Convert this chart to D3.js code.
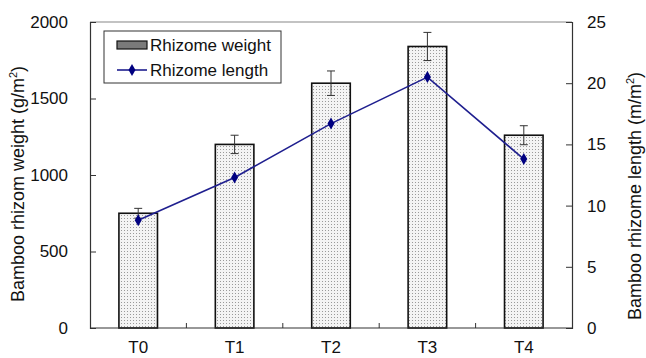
<!DOCTYPE html>
<html>
<head>
<meta charset="utf-8">
<script src="https://cdn.jsdelivr.net/npm/d3@7"></script>
<style>
  body { margin: 0; background: #fff; }
  svg { display: block; font-family: "Liberation Sans", Arial, sans-serif; }
</style>
</head>
<body>
<div id="app"></div>
<script>
// data
const treatments = ['T0', 'T1', 'T2', 'T3', 'T4'];
const rhizomeWeight = [750, 1200, 1600, 1840, 1260];   // g/m2
const weightError = [32, 60, 80, 92, 62];
const rhizomeLength = [8.8, 12.3, 16.7, 20.5, 13.8];   // m/m2
const weightTicks = [0, 500, 1000, 1500, 2000];
const lengthTicks = [0, 5, 10, 15, 20, 25];

const width = 646, height = 358;
const m = { left: 90, right: 74, top: 22, bottom: 30 };
const w = width - m.left - m.right;
const h = height - m.top - m.bottom;

const svg = d3.select('#app').append('svg')
  .attr('width', width)
  .attr('height', height);

// dotted fill for the bars
const defs = svg.append('defs');
const pat = defs.append('pattern')
  .attr('id', 'dots')
  .attr('patternUnits', 'userSpaceOnUse')
  .attr('width', 3).attr('height', 3);
pat.append('rect').attr('width', 3).attr('height', 3).attr('fill', '#f4f4f4');
pat.append('rect').attr('x', 1).attr('y', 1).attr('width', 1).attr('height', 1).attr('fill', '#9a9a9a');

const g = svg.append('g').attr('transform', `translate(${m.left},${m.top})`);

const x = d3.scaleBand()
  .domain(treatments)
  .range([0, w])
  .paddingInner(0.6)
  .paddingOuter(0.3);

const yL = d3.scaleLinear().domain([0, 2000]).range([h, 0]);
const yR = d3.scaleLinear().domain([0, 25]).range([h, 0]);

// frame top line
g.append('line')
  .attr('x1', 0).attr('x2', w).attr('y1', 0).attr('y2', 0)
  .attr('stroke', '#888').attr('stroke-width', 1.2);

// bars
g.selectAll('rect.bar')
  .data(treatments)
  .enter()
  .append('rect')
  .attr('class', 'bar')
  .attr('x', d => x(d))
  .attr('y', (d, i) => yL(rhizomeWeight[i]))
  .attr('width', x.bandwidth())
  .attr('height', (d, i) => h - yL(rhizomeWeight[i]))
  .attr('fill', 'url(#dots)')
  .attr('stroke', '#111')
  .attr('stroke-width', 1.6);

// error bars (upper and lower)
const eb = g.selectAll('g.err')
  .data(treatments)
  .enter()
  .append('g')
  .attr('class', 'err')
  .attr('stroke', '#333')
  .attr('stroke-width', 1);
eb.append('line')
  .attr('x1', d => x(d) + x.bandwidth() / 2)
  .attr('x2', d => x(d) + x.bandwidth() / 2)
  .attr('y1', (d, i) => yL(rhizomeWeight[i] - weightError[i]))
  .attr('y2', (d, i) => yL(rhizomeWeight[i] + weightError[i]));
eb.append('line')
  .attr('x1', d => x(d) + x.bandwidth() / 2 - 4)
  .attr('x2', d => x(d) + x.bandwidth() / 2 + 4)
  .attr('y1', (d, i) => yL(rhizomeWeight[i] + weightError[i]))
  .attr('y2', (d, i) => yL(rhizomeWeight[i] + weightError[i]));
eb.append('line')
  .attr('x1', d => x(d) + x.bandwidth() / 2 - 4)
  .attr('x2', d => x(d) + x.bandwidth() / 2 + 4)
  .attr('y1', (d, i) => yL(rhizomeWeight[i] - weightError[i]))
  .attr('y2', (d, i) => yL(rhizomeWeight[i] - weightError[i]));

// length line
const line = d3.line()
  .x((d, i) => x(treatments[i]) + x.bandwidth() / 2)
  .y(d => yR(d));
g.append('path')
  .datum(rhizomeLength)
  .attr('d', line)
  .attr('fill', 'none')
  .attr('stroke', '#1f1f8f')
  .attr('stroke-width', 1.6);

const diamond = d3.symbol().type(d3.symbolDiamond).size(42);
g.selectAll('path.pt')
  .data(rhizomeLength)
  .enter()
  .append('path')
  .attr('class', 'pt')
  .attr('d', diamond)
  .attr('transform', (d, i) => `translate(${x(treatments[i]) + x.bandwidth() / 2},${yR(d)})`)
  .attr('fill', '#000080');

// axes
const axL = g.append('g')
  .call(d3.axisLeft(yL).tickValues(weightTicks).tickFormat(d3.format('d'))
    .tickSize(-6).tickPadding(22));
const axR = g.append('g')
  .attr('transform', `translate(${w},0)`)
  .call(d3.axisRight(yR).tickValues(lengthTicks).tickFormat(d3.format('d'))
    .tickSize(-6).tickPadding(15));

// x axis: ticks between categories pointing up
const bounds = treatments.slice(1).map(d => x(d) - x.step() * x.paddingInner() / 2);
const axB = g.append('g').attr('transform', `translate(0,${h})`);
axB.append('line').attr('x1', 0).attr('x2', w).attr('stroke', '#333').attr('stroke-width', 1.2);
axB.selectAll('line.tk')
  .data(bounds)
  .enter()
  .append('line')
  .attr('class', 'tk')
  .attr('x1', d => d).attr('x2', d => d)
  .attr('y1', 0).attr('y2', -5)
  .attr('stroke', '#333');
axB.selectAll('text')
  .data(treatments)
  .enter()
  .append('text')
  .attr('x', d => x(d) + x.bandwidth() / 2)
  .attr('y', 25)
  .attr('text-anchor', 'middle')
  .attr('font-size', 17)
  .attr('fill', '#111')
  .text(d => d);

[axL, axR].forEach(a => {
  a.select('.domain').attr('stroke', '#333').attr('stroke-width', 1.2);
  a.selectAll('.tick line').attr('stroke', '#333');
  a.selectAll('.tick text').attr('font-size', 17).attr('fill', '#111')
    .attr('font-family', '"Liberation Sans", Arial, sans-serif');
});

// axis titles
const tl = svg.append('text')
  .attr('transform', 'translate(24,184) rotate(-90)')
  .attr('text-anchor', 'middle')
  .attr('font-size', 18)
  .attr('fill', '#111');
tl.append('tspan').text('Bamboo rhizom weight (g/m');
tl.append('tspan').attr('font-size', 11).attr('dy', -7).text('2');
tl.append('tspan').attr('dy', 7).text(')');

const tr = svg.append('text')
  .attr('transform', 'translate(641,196) rotate(-90)')
  .attr('text-anchor', 'middle')
  .attr('font-size', 18)
  .attr('fill', '#111');
tr.append('tspan').text('Bamboo rhizome length (m/m');
tr.append('tspan').attr('font-size', 11).attr('dy', -7).text('2');
tr.append('tspan').attr('dy', 7).text(')');

// legend
const lg = svg.append('g').attr('transform', 'translate(104,31)');
lg.append('rect').attr('width', 177).attr('height', 52)
  .attr('fill', '#fff').attr('stroke', '#333').attr('stroke-width', 1);
lg.append('rect').attr('x', 13).attr('y', 10).attr('width', 30).attr('height', 8)
  .attr('fill', '#7a7a7a').attr('stroke', '#111').attr('stroke-width', 1.2);
lg.append('text').attr('x', 46).attr('y', 20).attr('font-size', 17).attr('fill', '#111')
  .text('Rhizome weight');
lg.append('line').attr('x1', 13).attr('x2', 43).attr('y1', 39).attr('y2', 39)
  .attr('stroke', '#1f1f8f').attr('stroke-width', 1.6);
lg.append('path').attr('d', diamond).attr('transform', 'translate(28,39)').attr('fill', '#000080');
lg.append('text').attr('x', 46).attr('y', 45).attr('font-size', 17).attr('fill', '#111')
  .text('Rhizome length');
</script>
</body>
</html>
